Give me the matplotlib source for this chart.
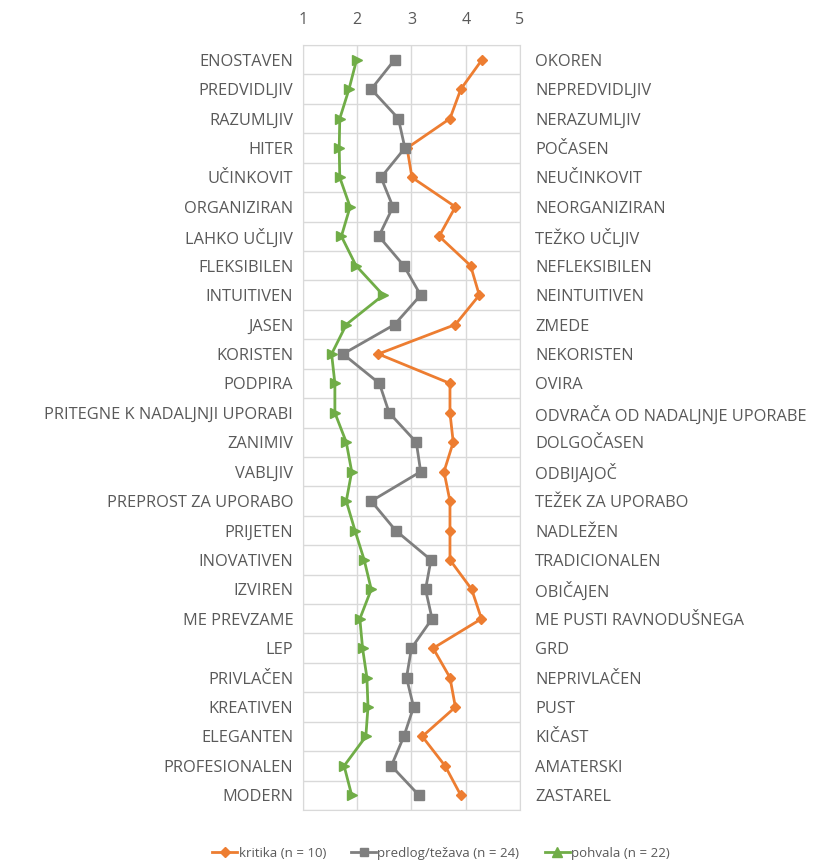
import matplotlib
matplotlib.use("Agg")
import matplotlib.pyplot as plt
from matplotlib.lines import Line2D

# --- data ---
left_labels = ["ENOSTAVEN", "PREDVIDLJIV", "RAZUMLJIV", "HITER", "UČINKOVIT",
               "ORGANIZIRAN", "LAHKO UČLJIV", "FLEKSIBILEN", "INTUITIVEN", "JASEN",
               "KORISTEN", "PODPIRA", "PRITEGNE K NADALJNJI UPORABI", "ZANIMIV",
               "VABLJIV", "PREPROST ZA UPORABO", "PRIJETEN", "INOVATIVEN", "IZVIREN",
               "ME PREVZAME", "LEP", "PRIVLAČEN", "KREATIVEN", "ELEGANTEN",
               "PROFESIONALEN", "MODERN"]
right_labels = ["OKOREN", "NEPREDVIDLJIV", "NERAZUMLJIV", "POČASEN", "NEUČINKOVIT",
                "NEORGANIZIRAN", "TEŽKO UČLJIV", "NEFLEKSIBILEN", "NEINTUITIVEN", "ZMEDE",
                "NEKORISTEN", "OVIRA", "ODVRAČA OD NADALJNJE UPORABE", "DOLGOČASEN",
                "ODBIJAJOČ", "TEŽEK ZA UPORABO", "NADLEŽEN", "TRADICIONALEN", "OBIČAJEN",
                "ME PUSTI RAVNODUŠNEGA", "GRD", "NEPRIVLAČEN", "PUST", "KIČAST",
                "AMATERSKI", "ZASTAREL"]

kritika = [4.30, 3.91, 3.71, 2.92, 3.01, 3.81, 3.51, 4.09, 4.25, 3.81,
           2.39, 3.71, 3.71, 3.77, 3.60, 3.71, 3.71, 3.71, 4.11, 4.29,
           3.40, 3.71, 3.81, 3.20, 3.62, 3.91]
predlog = [2.69, 2.26, 2.76, 2.88, 2.44, 2.66, 2.40, 2.86, 3.17, 2.69,
           1.74, 2.41, 2.59, 3.09, 3.17, 2.26, 2.71, 3.36, 3.26, 3.38,
           3.00, 2.91, 3.04, 2.86, 2.63, 3.14]
pohvala = [1.99, 1.85, 1.68, 1.67, 1.68, 1.87, 1.71, 1.98, 2.48, 1.80,
           1.53, 1.59, 1.59, 1.80, 1.90, 1.80, 1.96, 2.13, 2.26, 2.05,
           2.10, 2.18, 2.20, 2.16, 1.76, 1.90]

series_names = ["kritika (n = 10)", "predlog/težava (n = 24)", "pohvala (n = 22)"]

ORANGE = "#ED7D31"
GRAY = "#7F7F7F"
GREEN = "#70AD47"
TXT = "#595959"
GRID = "#D9D9D9"

plt.rcParams["font.family"] = ["Open Sans", "DejaVu Sans"]

fig = plt.figure(figsize=(8.32, 8.61), dpi=100)
ax = fig.add_axes([0.364, 0.0592, 0.261, 0.8885])

y = list(range(len(left_labels)))

ax.plot(kritika, y, color=ORANGE, lw=2, marker="D", ms=5, zorder=3)
ax.plot(predlog, y, color=GRAY, lw=2, marker="s", ms=7.5, zorder=3)
ax.plot(pohvala, y, color=GREEN, lw=2, marker=">", ms=7, zorder=3)

ax.set_xlim(1, 5)
ax.set_ylim(len(y) - 0.5, -0.5)
ax.set_xticks([1, 2, 3, 4, 5])
ax.xaxis.tick_top()
ax.tick_params(axis="x", length=0, pad=12, labelsize=11.5, labelcolor=TXT)

# horizontal grid between categories, vertical grid at ticks
ax.set_yticks(y)
ax.set_yticklabels(left_labels)
ax.set_yticks([i - 0.5 for i in range(len(y) + 1)], minor=True)
ax.grid(True, axis="x", color=GRID, lw=1)
ax.grid(True, axis="y", which="minor", color=GRID, lw=1)
ax.grid(False, axis="y", which="major")
ax.tick_params(axis="y", which="both", length=0)
ax.tick_params(axis="y", which="major", pad=7, labelsize=11.8, labelcolor=TXT)
for s in ax.spines.values():
    s.set_color(GRID)
ax.set_axisbelow(True)

ax2 = ax.twinx()
ax2.set_ylim(ax.get_ylim())
ax2.set_yticks(y)
ax2.set_yticklabels(right_labels)
ax2.tick_params(axis="y", length=0, pad=11, labelsize=11.8, labelcolor=TXT)
for s in ax2.spines.values():
    s.set_visible(False)

handles = [
    Line2D([], [], color=ORANGE, lw=2, marker="D", ms=5),
    Line2D([], [], color=GRAY, lw=2, marker="s", ms=6),
    Line2D([], [], color=GREEN, lw=2, marker="^", ms=7),
]
fig.legend(handles, series_names, loc="center", bbox_to_anchor=(0.53, 0.009),
           ncol=3, frameon=False, fontsize=9.5, labelcolor=TXT,
           handlelength=1.9, handletextpad=0.1, columnspacing=1.9)

fig.savefig("out.png", dpi=100)
